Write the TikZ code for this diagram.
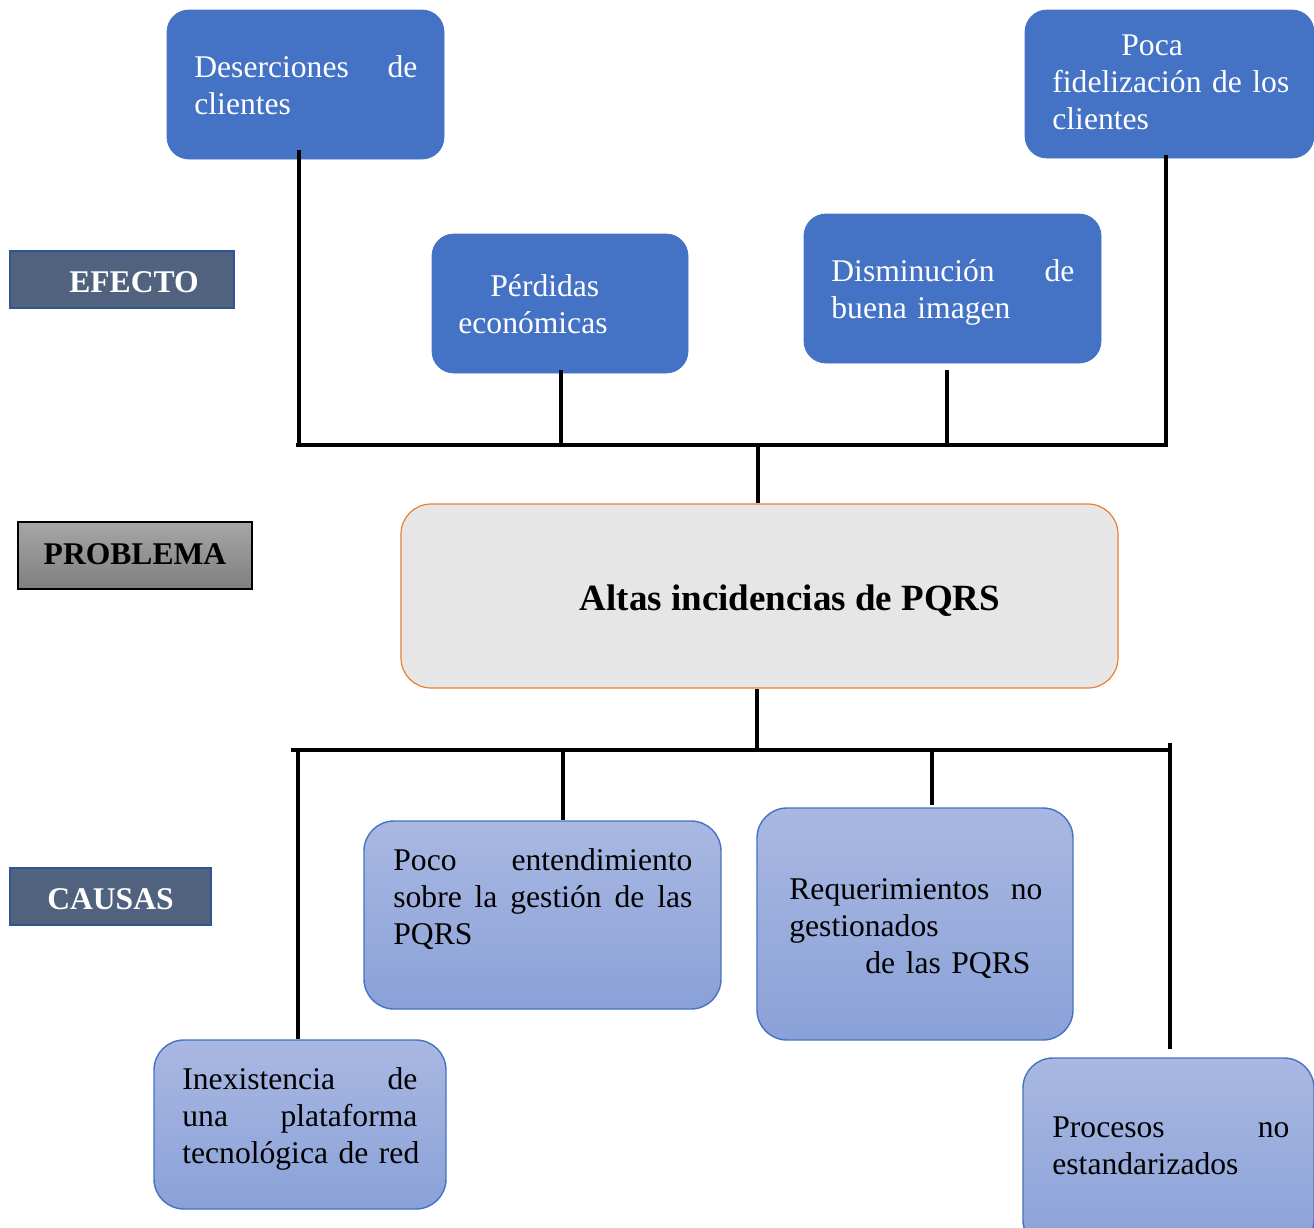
\documentclass[tikz,border=0pt]{standalone}
\usepackage{fontspec}
\setmainfont{Liberation Serif}
\setlength{\parindent}{0pt}
\definecolor{effblue}{HTML}{4472C4}
\definecolor{lblfill}{HTML}{51627F}
\definecolor{lblborder}{HTML}{2F5597}
\definecolor{probfill}{HTML}{E7E6E6}
\definecolor{proborder}{HTML}{ED7D31}
\definecolor{causetop}{HTML}{A9B8E2}
\definecolor{causebot}{HTML}{8AA1D8}
\definecolor{graytop}{HTML}{A6A6A6}
\definecolor{graybot}{HTML}{7F7F7F}
\begin{document}
\begin{tikzpicture}[x=0.5pt,y=-0.5pt,
  effbox/.style={draw=effblue, fill=effblue, rounded corners=11pt, inner sep=0pt},
  causebox/.style={draw=effblue, line width=0.7pt, top color=causetop, bottom color=causebot, rounded corners=15pt, inner sep=0pt},
  probbox/.style={draw=proborder, line width=0.6pt, fill=probfill, rounded corners=15pt, inner sep=0pt},
  lblbox/.style={draw=lblborder, line width=1pt, fill=lblfill, inner sep=0pt, text=white, font=\fontsize{15.8}{18.5}\selectfont\bfseries},
  problbl/.style={draw=black, line width=0.6pt, top color=graytop, bottom color=graybot, inner sep=0pt, text=black, font=\fontsize{15.8}{18.5}\selectfont\bfseries},
  txt/.style={font=\fontsize{15.8}{18.5}\selectfont, align=left, inner sep=0pt, anchor=west},
  wtxt/.style={txt, text=white},
  conn/.style={draw=black, line width=1.75pt}
]
\clip (0,0) rectangle (1314,1228);
\useasboundingbox (0,0) rectangle (1314,1228);

% effect boxes
\node[effbox, minimum width=138.5pt, minimum height=74.5pt] (deser) at (305.5,84.5) {};
\node[effbox, minimum width=144.5pt, minimum height=74pt] (poca) at (1169.5,84) {};
\node[effbox, minimum width=128pt, minimum height=69.5pt] (perd) at (560,303.5) {};
\node[effbox, minimum width=148.5pt, minimum height=74.5pt] (dism) at (952.5,288.5) {};

\node[wtxt, text width=111.5pt] (tdeser) at (194,85.5) {Deserciones\hfill de\\clientes};
\node[wtxt, text width=122pt] (tpoca) at (1052,82) {\hspace*{34.5pt}Poca\\fidelización de los\\clientes};
\node[wtxt, text width=80pt] (tperd) at (458,304.5) {\hspace*{16pt}Pérdidas\\económicas};
\node[wtxt, text width=121.5pt] (tdism) at (831,292.5) {Disminución\hfill de\\buena imagen};

% labels
\node[lblbox, minimum width=112pt, minimum height=28.5pt, text height=12.5pt, text depth=0pt] (efecto) at (122,279.5) {\hspace*{12pt}EFECTO};
\node[problbl, minimum width=117pt, minimum height=33.5pt, text height=10.5pt, text depth=2pt] (problema) at (135,555.5) {PROBLEMA};
\node[lblbox, minimum width=100.5pt, minimum height=28.5pt, text height=13.4pt, text depth=0pt] (causas) at (110.5,896.5) {CAUSAS};

% problem
\node[probbox, minimum width=358.5pt, minimum height=92pt] (prob) at (759.5,596) {};
\node[font=\fontsize{18.5}{22}\selectfont\bfseries, inner sep=0pt] (tprob) at (790,601) {Altas incidencias de PQRS};

% cause boxes
\node[causebox, minimum width=178.5pt, minimum height=94pt] (poco) at (542.5,915) {};
\node[causebox, minimum width=158pt, minimum height=116pt] (req) at (915,924) {};
\node[causebox, minimum width=146pt, minimum height=84.5pt] (inex) at (300,1124.5) {};
\node[causebox, minimum width=145.5pt, minimum height=96pt] (proc) at (1168.5,1154) {};

\node[txt, text width=149.5pt] (tpoco) at (393,899.5) {Poco\hfill entendimiento\\sobre\hfill la\hfill gestión\hfill de\hfill las\\PQRS};
\node[txt, text width=126.5pt] (treq) at (789,928.5) {Requerimientos\hfill no\\gestionados\\\hspace*{38pt}de las PQRS};
\node[txt, text width=117.5pt] (tinex) at (182,1118.5) {Inexistencia\hfill de\\una\hfill plataforma\\\mbox{tecnológica de red}};
\node[txt, text width=118.5pt] (tproc) at (1052,1145.5) {Procesos\hfill no\\estandarizados};

% top connectors
\coordinate (tL) at (296,445);
\coordinate (tR) at (1168,445);
\coordinate (e1) at (299,445);
\coordinate (e2) at (561,445);
\coordinate (e3) at (947,445);
\coordinate (e4) at (1166,445);
\coordinate (e0) at (758,445);
\draw[conn] (tL) -- (tR);
\draw[conn] ([yshift=4.5pt]deser.south -| e1) -- (e1);
\draw[conn] ([yshift=1.5pt]perd.south -| e2) -- (e2);
\draw[conn] ([yshift=-3.5pt]dism.south -| e3) -- (e3);
\draw[conn] ([yshift=1.5pt]poca.south -| e4) -- (e4);
\draw[conn] (e0) -- (prob.north -| e0);

% bottom connectors
\coordinate (bL) at (291,750);
\coordinate (bR) at (1172,750);
\coordinate (c0) at (757,750);
\coordinate (c1) at (298,750);
\coordinate (c2) at (563,750);
\coordinate (c3) at (932,748);
\coordinate (c4) at (1170,743);
\draw[conn] (bL) -- (bR);
\draw[conn] (prob.south -| c0) -- (c0);
\draw[conn] (c1) -- (inex.north -| c1);
\draw[conn] (c2) -- (poco.north -| c2);
\draw[conn] (c3) -- ([yshift=1pt]req.north -| c3);
\draw[conn] (c4) -- ([yshift=4pt]proc.north -| c4);
\end{tikzpicture}
\end{document}
